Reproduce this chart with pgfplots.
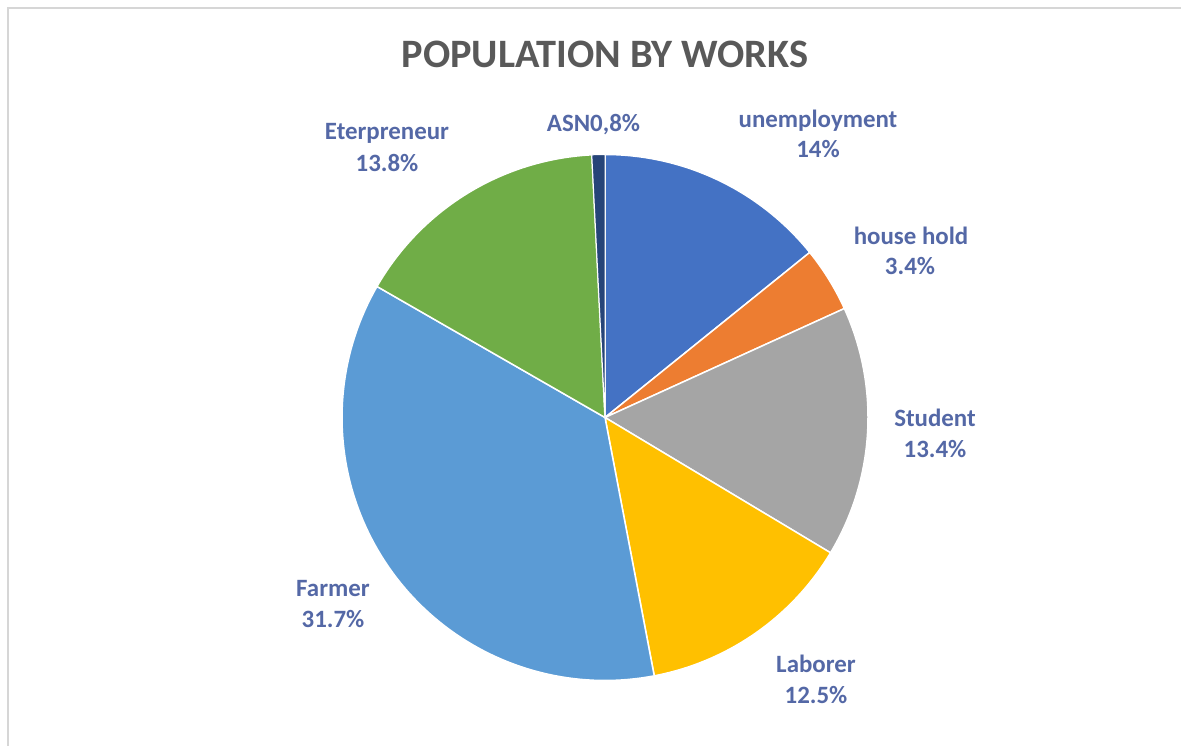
\documentclass[border=0pt]{standalone}
\usepackage{pgfplots}
\pgfplotsset{compat=1.18}
\usepackage{fontspec}
\setmainfont{Carlito}
\definecolor{cUnemp}{HTML}{4472C4}
\definecolor{cHouse}{HTML}{ED7D31}
\definecolor{cStud}{HTML}{A5A5A5}
\definecolor{cLab}{HTML}{FFC000}
\definecolor{cFarm}{HTML}{5B9BD5}
\definecolor{cEntr}{HTML}{70AD47}
\definecolor{cASN}{HTML}{264478}
\definecolor{labcol}{RGB}{84,104,166}
\definecolor{titlecol}{HTML}{595959}
% slice shares (percent of the full circle), clockwise from 12 o'clock
\def\vA{14.2}% unemployment
\def\vB{4.0}%  house hold
\def\vC{15.4}% student
\def\vD{13.4}% laborer
\def\vE{36.3}% farmer
\def\vF{15.9}% entrepreneur
\def\vG{0.8}%  ASN
\pgfmathsetmacro\aA{90}
\pgfmathsetmacro\aB{\aA-3.6*\vA}
\pgfmathsetmacro\aC{\aB-3.6*\vB}
\pgfmathsetmacro\aD{\aC-3.6*\vC}
\pgfmathsetmacro\aE{\aD-3.6*\vD}
\pgfmathsetmacro\aF{\aE-3.6*\vE}
\pgfmathsetmacro\aG{\aF-3.6*\vF}
\pgfmathsetmacro\aH{\aG-3.6*\vG}
\def\cx{605}
\def\cy{328.5}
\def\rr{263}
\begin{document}
\begin{tikzpicture}
\begin{axis}[
  at={(0,0)}, anchor=south west,
  scale only axis, width=1181bp, height=746bp,
  xmin=0, xmax=1181, ymin=0, ymax=746,
  hide axis, clip=false,
  every axis plot/.append style={draw=white, line width=1.5bp, samples=90},
]
\addplot[fill=cUnemp, domain=\aB:\aA] ({\cx+\rr*cos(x)},{\cy+\rr*sin(x)}) -- (axis cs:\cx,\cy) -- cycle;
\addplot[fill=cHouse, domain=\aC:\aB] ({\cx+\rr*cos(x)},{\cy+\rr*sin(x)}) -- (axis cs:\cx,\cy) -- cycle;
\addplot[fill=cStud, domain=\aD:\aC] ({\cx+\rr*cos(x)},{\cy+\rr*sin(x)}) -- (axis cs:\cx,\cy) -- cycle;
\addplot[fill=cLab, domain=\aE:\aD] ({\cx+\rr*cos(x)},{\cy+\rr*sin(x)}) -- (axis cs:\cx,\cy) -- cycle;
\addplot[fill=cFarm, domain=\aF:\aE] ({\cx+\rr*cos(x)},{\cy+\rr*sin(x)}) -- (axis cs:\cx,\cy) -- cycle;
\addplot[fill=cEntr, domain=\aG:\aF] ({\cx+\rr*cos(x)},{\cy+\rr*sin(x)}) -- (axis cs:\cx,\cy) -- cycle;
\addplot[fill=cASN, line width=1bp, domain=\aH:\aG, samples=10] ({\cx+\rr*cos(x)},{\cy+\rr*sin(x)}) -- (axis cs:\cx,\cy) -- cycle;
% frame
\draw[color=black!16, line width=2.5bp] (axis cs:8,0) -- (axis cs:8,738) -- (axis cs:1181,738);
% title
\node[font=\fontsize{40.5}{44}\selectfont\bfseries, text=titlecol, anchor=base] at (axis cs:605,678) {POPULATION BY WORKS};
% labels (one node per line, placed at its baseline)
\tikzset{lab/.style={font=\fontsize{25}{30}\selectfont\bfseries, text=labcol, anchor=base, inner sep=0pt}}
\node[lab] at (axis cs:387,606) {Eterpreneur};
\node[lab] at (axis cs:387,574) {13.8\%};
\node[lab] at (axis cs:593.5,614) {ASN0,8\%};
\node[lab] at (axis cs:818,618) {unemployment};
\node[lab] at (axis cs:818,588) {14\%};
\node[lab] at (axis cs:911,501) {house hold};
\node[lab] at (axis cs:910,471) {3.4\%};
\node[lab] at (axis cs:935,319) {Student};
\node[lab] at (axis cs:935,288) {13.4\%};
\node[lab] at (axis cs:816,73) {Laborer};
\node[lab] at (axis cs:816,42) {12.5\%};
\node[lab] at (axis cs:333,149) {Farmer};
\node[lab] at (axis cs:333,118) {31.7\%};
\end{axis}
\pgfresetboundingbox
\useasboundingbox (0,0) rectangle (1181bp,746bp);
\end{tikzpicture}
\end{document}
